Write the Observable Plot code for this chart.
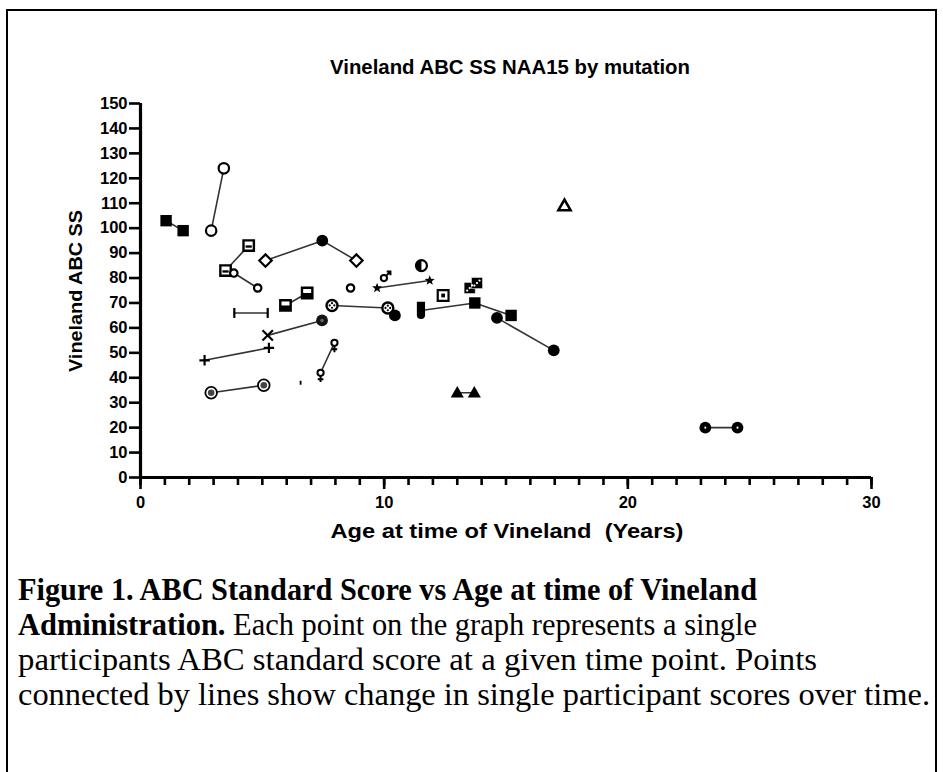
<!DOCTYPE html>
<html><head><meta charset="utf-8">
<script src="https://cdn.jsdelivr.net/npm/d3@7"></script>
<script src="https://cdn.jsdelivr.net/npm/@observablehq/plot@0.6"></script>
<style>
html,body{margin:0;padding:0;background:#fff;}
body{width:943px;height:772px;position:relative;overflow:hidden;}
#frame{position:absolute;left:6px;top:9px;width:931px;height:820px;border:2px solid #000;box-sizing:border-box;}
#chart{position:absolute;left:0;top:0;}
#cap{position:absolute;left:0;top:560px;}
</style></head><body>
<div id="frame"></div>
<div id="chart"></div>
<svg id="cap" width="943" height="212"></svg>
<script>
// ---- data ----
const mutation = ["M01","M01","M02","M02","M03","M03","M04","M04","M05","M06","M05","M07","M07","M08","M08","M09","M09","M06","M06","M06","M11","M12","M13","M13","M14","M14","M15","M16","M16","M04","M17","M18","M18","M19","M20","M01","M01","M21","M22","M22","M23","M23","M24","M25","M25"];
const lineId   = ["L01","L01","L02","L02","L03","L03","L04","L04","L05","L05","L05","L06","L06","L07","L07","L08","L08","","L09","L09","L10","L10","L11","L11","L12","L12","","L13","L13","","","L14","L14","","L15","L15","L15","","L16","L16","L17","L17","","L18","L18"];
const age      = [1.05,1.75,2.9,3.42,3.49,4.44,3.83,4.81,5.13,7.46,8.86,3.85,5.22,5.95,6.84,7.86,10.15,10.44,14.63,16.96,5.22,7.45,2.63,5.27,2.9,5.06,6.57,7.39,7.96,8.62,9.99,9.71,11.87,11.53,11.51,13.72,15.21,12.42,13.51,13.81,13.0,13.7,17.4,23.18,24.5];
const score    = [103,99,99,124,83,93,82,76,87,95,87,66,66,69,74,69,68,65,64,51,57,63,47,52,34,37,38,42,54,76,80,76,79,85,67,70,65,73,76,78,34,34,109,20,20];
const xTicksMajor = [0,10,20,30];
const yTicks = d3.range(0,151,10);

const rows = age.map((a,i)=>({age:a, score:score[i], mutation:mutation[i], line:lineId[i]}));

// ---- custom symbols ----
const TAU = 2*Math.PI;
const sym = f => ({draw(c,size){ f(c, Math.sqrt(size/Math.PI)); }});
const circ = sym((c,r)=>{c.moveTo(r,0); c.arc(0,0,r,0,TAU);});
const sqr = sym((c,r)=>{c.rect(-r,-r,2*r,2*r);});
const lowerHalfSq = sym((c,r)=>{c.rect(-r,0,2*r,r);});
const midBar = sym((c,r)=>{c.rect(-0.6*r,-0.05*r,1.2*r,0.45*r);});
const dia = sym((c,r)=>{c.moveTo(0,-r);c.lineTo(r,0);c.lineTo(0,r);c.lineTo(-r,0);c.closePath();});
const tri = sym((c,r)=>{c.moveTo(0,-r);c.lineTo(r*0.98,r*0.72);c.lineTo(-r*0.98,r*0.72);c.closePath();});
const vbar = sym((c,r)=>{c.moveTo(0,-r);c.lineTo(0,r);});
const xMark = sym((c,r)=>{c.moveTo(-r,-r);c.lineTo(r,r);c.moveTo(r,-r);c.lineTo(-r,r);});
const plusMark = sym((c,r)=>{c.moveTo(-r,0);c.lineTo(r,0);c.moveTo(0,-r);c.lineTo(0,r);});
const fourDots = sym((c,r)=>{const d=r*0.42,q=r*0.2;for(const [dx,dy] of [[-d,0],[d,0],[0,-d],[0,d]]){c.moveTo(dx+q,dy);c.arc(dx,dy,q,0,TAU);}});
const leftHalf = sym((c,r)=>{c.moveTo(0,-r);c.arc(0,0,r,-Math.PI/2,Math.PI/2,true);c.closePath();});
const female = sym((c,r)=>{const cr=r*0.5;c.moveTo(cr,0);c.arc(0,0,cr,0,TAU);c.moveTo(0,cr);c.lineTo(0,cr+r*1.0);c.moveTo(-r*0.45,cr+r*0.55);c.lineTo(r*0.45,cr+r*0.55);});
const male = sym((c,r)=>{const cr=r*0.5,k=Math.SQRT1_2;c.moveTo(cr,0);c.arc(0,0,cr,0,TAU);c.moveTo(cr*k,-cr*k);c.lineTo(r*1.05,-r*1.05);c.moveTo(r*0.45,-r*1.05);c.lineTo(r*1.05,-r*1.05);c.lineTo(r*1.05,-r*0.45);});
const star = sym((c,r)=>{for(let i=0;i<10;i++){const a=-Math.PI/2+i*Math.PI/5,rr=i%2?r*0.42:r;const px=rr*Math.cos(a),py=rr*Math.sin(a);i?c.lineTo(px,py):c.moveTo(px,py);}c.closePath();});
const shield = sym((c,r)=>{const w=r*0.5;c.moveTo(-w,-2.1*w);c.lineTo(w,-2.1*w);c.lineTo(w,1.1*w);c.arc(0,1.1*w,w,0,Math.PI);c.closePath();});
const diceDots = sym((c,r)=>{const q=r*0.2;for(const [dx,dy] of [[-0.45*r,0.45*r],[0,0],[0.45*r,-0.45*r]]){c.moveTo(dx+q,dy);c.arc(dx,dy,q,0,TAU);}});
const tinyDash = sym((c,r)=>{c.moveTo(0,-r);c.lineTo(0,r);});
const centerDot = sym((c,r)=>{const q=r*0.3;c.moveTo(q,0);c.arc(0,0,q,0,TAU);});

const K = "#000";
const markerStyle = {
  M01:[{symbol:sqr,r:5.7,fill:K,stroke:"none"}],
  M02:[{symbol:circ,r:5.2,fill:"#fff",stroke:K,strokeWidth:2.2}],
  M03:[{symbol:sqr,r:5.2,fill:"#fff",stroke:K,strokeWidth:2.4},{symbol:midBar,r:5.2,fill:K,stroke:"none"}],
  M04:[{symbol:circ,r:3.7,fill:"#fff",stroke:K,strokeWidth:2.2}],
  M05:[{symbol:dia,r:6.2,fill:"#fff",stroke:K,strokeWidth:2.2}],
  M06:[{symbol:circ,r:5.9,fill:K,stroke:"none"}],
  M07:[{symbol:vbar,r:5,fill:"none",stroke:K,strokeWidth:2.2}],
  M08:[{symbol:sqr,r:5.2,fill:"#fff",stroke:K,strokeWidth:2.4},{symbol:lowerHalfSq,r:5.2,fill:K,stroke:"none"}],
  M09:[{symbol:circ,r:5.5,fill:"#fff",stroke:K,strokeWidth:2.4},{symbol:fourDots,r:5.5,fill:K,stroke:"none"}],
  M11:[{symbol:xMark,r:5.2,fill:"none",stroke:K,strokeWidth:2.2}],
  M12:[{symbol:circ,r:5.9,fill:"#151515",stroke:"none"},{symbol:centerDot,r:5.9,fill:"#666",stroke:"none"}],
  M13:[{symbol:plusMark,r:5.2,fill:"none",stroke:K,strokeWidth:2.2}],
  M14:[{symbol:circ,r:5.8,fill:"#fff",stroke:K,strokeWidth:1.8},{symbol:circ,r:3.3,fill:"#444",stroke:"none"}],
  M15:[{symbol:tinyDash,r:2,fill:"none",stroke:K,strokeWidth:1.8}],
  M16:[{symbol:female,r:6.2,fill:"#fff",stroke:K,strokeWidth:2}],
  M17:[{symbol:male,r:6.2,fill:"#fff",stroke:K,strokeWidth:2}],
  M18:[{symbol:star,r:5.3,fill:K,stroke:"none"}],
  M19:[{symbol:circ,r:5.5,fill:"#fff",stroke:K,strokeWidth:2.2},{symbol:leftHalf,r:5.5,fill:K,stroke:"none"}],
  M20:[{symbol:shield,r:8.2,fill:K,stroke:"none"}],
  M21:[{symbol:sqr,r:5.4,fill:"#fff",stroke:K,strokeWidth:2.2},{symbol:sqr,r:1.9,fill:K,stroke:"none"}],
  M22:[{symbol:sqr,r:5.6,fill:K,stroke:"#fff",strokeWidth:0.6},{symbol:diceDots,r:5.6,fill:"#fff",stroke:"none"}],
  M23:[{symbol:tri,r:6.7,fill:K,stroke:"none"}],
  M24:[{symbol:tri,r:6.2,fill:"#fff",stroke:K,strokeWidth:2.6}],
  M25:[{symbol:circ,r:5.9,fill:K,stroke:"none"},{symbol:centerDot,r:3.4,fill:"#fff",stroke:"none"}]
};

const marks = [
  Plot.line(rows.filter(d=>d.line), {x:"age", y:"score", z:"line", stroke:"#333", strokeWidth:1.6}),
];
for (const [m, layers] of Object.entries(markerStyle)) {
  const d = rows.filter(r=>r.mutation===m);
  for (const L of layers) marks.push(Plot.dot(d, {x:"age", y:"score", ...L}));
}
marks.push(
  Plot.axisX(d3.range(0,31,1), {tickSize:8, strokeWidth:2.6, tickFormat:()=>"", label:null}),
  Plot.axisX(xTicksMajor, {tickSize:12, strokeWidth:2.6, tickPadding:7, fontSize:16.5, label:null}),
  Plot.axisY(yTicks, {tickSize:11, strokeWidth:2.6, tickPadding:2, fontSize:16.5, label:null}),
  Plot.ruleX([0], {strokeWidth:3.2, stroke:K}),
  Plot.ruleY([0], {strokeWidth:3.2, stroke:K})
);

const chart = Plot.plot({
  width:943, height:560,
  marginLeft:140, marginRight:72, marginTop:103, marginBottom:83,
  x:{domain:[0,30], axis:null},
  y:{domain:[0,150], axis:null},
  style:{fontFamily:"'Liberation Sans', Arial, sans-serif", fontWeight:"bold", color:"#000", background:"transparent", overflow:"visible"},
  marks
});
document.getElementById("chart").appendChild(chart);

const svg = d3.select(chart);
const addText = (txt,x,y,size,len,rot) => {
  const t = svg.append("text").attr("x",x).attr("y",y).attr("text-anchor","middle")
    .attr("dominant-baseline","central").attr("font-size",size).attr("font-weight","bold")
    .attr("fill","#000").attr("textLength",len).attr("lengthAdjust","spacingAndGlyphs")
    .style("white-space","pre").text(txt);
  if (rot) t.attr("transform",`rotate(${rot},${x},${y})`);
};
addText("Vineland ABC SS NAA15 by mutation", 510, 67, 19.5, 360);
addText("Age at time of Vineland  (Years)", 507, 530, 21, 353);
addText("Vineland ABC SS", 75, 291, 19, 162, -90);

// caption
const cap = d3.select("#cap").style("font-family","'Liberation Serif','Times New Roman',serif").style("font-size","31.5px");
const capLines = [
  {parts:[["Figure 1. ABC Standard Score vs Age at time of Vineland",true]], len:739},
  {parts:[["Administration.",true],[" Each point on the graph represents a single",false]], len:739},
  {parts:[["participants ABC standard score at a given time point. Points",false]], len:799},
  {parts:[["connected by lines show change in single participant scores over time.",false]], len:912}
];
capLines.forEach((ln,i)=>{
  const t = cap.append("text").attr("x",18).attr("y",40+35*i).attr("fill","#000")
    .attr("textLength",ln.len).attr("lengthAdjust","spacingAndGlyphs").style("white-space","pre");
  ln.parts.forEach(([s,b])=>t.append("tspan").attr("font-weight",b?"bold":"normal").text(s));
});
</script>
</body></html>
